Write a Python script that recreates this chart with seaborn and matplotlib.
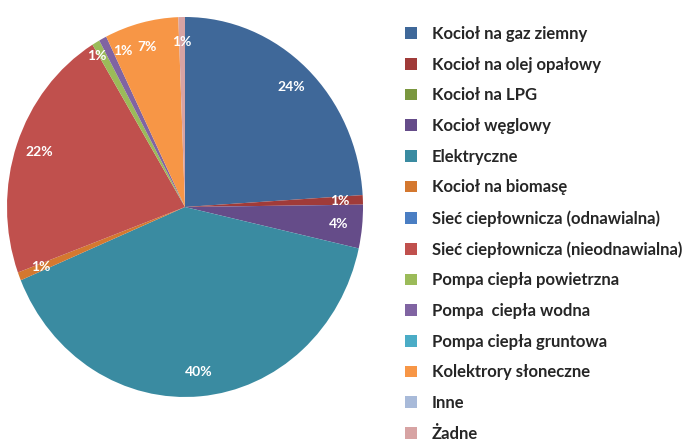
import matplotlib
matplotlib.use("Agg")
import matplotlib.pyplot as plt
import seaborn as sns

# udział źródeł ciepła (%)
labels = [
    "Kocioł na gaz ziemny",
    "Kocioł na olej opałowy",
    "Kocioł na LPG",
    "Kocioł węglowy",
    "Elektryczne",
    "Kocioł na biomasę",
    "Sieć ciepłownicza (odnawialna)",
    "Sieć ciepłownicza (nieodnawialna)",
    "Pompa ciepła powietrzna",
    "Pompa  ciepła wodna",
    "Pompa ciepła gruntowa",
    "Kolektrory słoneczne",
    "Inne",
    "Żadne",
]
values = [24.0, 0.8, 0.0, 3.7, 40.2, 0.7, 0.0, 21.9, 0.7, 0.7, 0.0, 6.7, 0.0, 0.6]
colors = [
    "#3F6899", "#A03B39", "#7A973F", "#654C89", "#3A8BA1", "#D4782F", "#4A7EC3",
    "#C0504D", "#9BBB59", "#8064A2", "#4BACC6", "#F79646", "#A8BAD9", "#D7A3A3",
]

sns.set_theme(style="white")
plt.rcParams["font.family"] = ["Lato", "DejaVu Sans"]

fig = plt.figure(figsize=(6.91, 4.41), dpi=100)
ax = fig.add_axes([7 / 691, 44 / 441, 356 / 691, 380 / 441])


def pct(p):
    return f"{p:.0f}%" if p > 0.05 else ""


wedges, _, autotexts = ax.pie(
    values, colors=colors, startangle=90, counterclock=False,
    autopct=pct, pctdistance=0.87,
    wedgeprops=dict(linewidth=0),
    textprops=dict(color="white", fontsize=10, fontweight="bold"),
)
ax.set_aspect("auto")
ax.set_xlim(-1, 1)
ax.set_ylim(-1, 1)

# rozsunięcie etykiet dla wąskich wycinków pomp ciepła
x, y = autotexts[8].get_position()
autotexts[8].set_position((x - 0.06, y + 0.04))
x, y = autotexts[9].get_position()
autotexts[9].set_position((x + 0.05, y + 0.05))

fig.legend(
    wedges, labels, loc="upper left", bbox_to_anchor=(390 / 691, 1 - 11 / 441),
    frameon=False, prop=dict(weight="bold", size=12),
    handlelength=0.7, handleheight=0.7, handletextpad=0.91, labelspacing=0.88,
)

fig.savefig("out.png", dpi=100)
